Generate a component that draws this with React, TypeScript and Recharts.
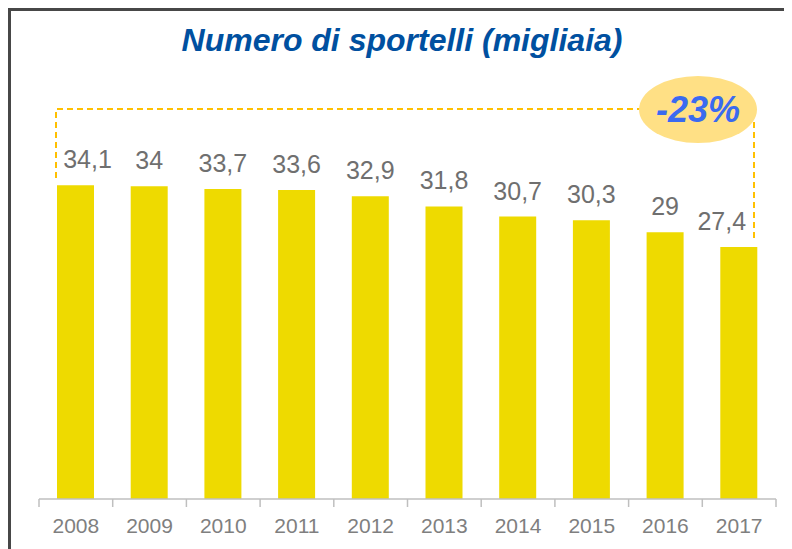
import React from "react";
import { BarChart, Bar, XAxis, YAxis, LabelList } from "recharts";

const years = ["2008", "2009", "2010", "2011", "2012", "2013", "2014", "2015", "2016", "2017"];
const sportelli = [34.1, 34, 33.7, 33.6, 32.9, 31.8, 30.7, 30.3, 29, 27.4];
const variazione = "-23%";

const data = years.map((anno, i) => ({ anno, valore: sportelli[i] }));

const W = 784;
const H = 541;
const AXIS_H = 30;
const M = { top: 77, right: 16, bottom: 50 - AXIS_H, left: 31 };
const band = (W - M.left - M.right) / years.length;
const font = "'Liberation Sans', Arial, sans-serif";

// tick marks sit on the band edges, labels in the middle
const YearTick = (props: any) => {
  const { x, y, payload, index } = props;
  const axisY = y - 8;
  const left = x - band / 2;
  return (
    <g>
      <line x1={left} y1={axisY} x2={left} y2={axisY + 8} stroke="#bfbfbf" strokeWidth={1.5} />
      {index === years.length - 1 && (
        <line x1={x + band / 2} y1={axisY} x2={x + band / 2} y2={axisY + 8} stroke="#bfbfbf" strokeWidth={1.5} />
      )}
      <text x={x} y={axisY + 34} textAnchor="middle" fill="#7f7f7f" fontSize={21} fontFamily={font}>
        {payload.value}
      </text>
    </g>
  );
};

// first and last labels are nudged away from the dashed bracket
const ValueLabel = (props: any) => {
  const { x, y, width, value, index } = props;
  const nudge = index === 0 ? 12 : index === years.length - 1 ? -17 : 0;
  return (
    <text
      x={x + width / 2 + nudge}
      y={y - 17}
      textAnchor="middle"
      fill="#6f6f6f"
      fontSize={25}
      fontFamily={font}
    >
      {String(value).replace(".", ",")}
    </text>
  );
};

export default function App() {
  return (
    <div style={{ position: "relative", width: W, height: H }}>
      <div
        style={{
          position: "absolute",
          left: 0,
          top: 0,
          width: W + 10,
          height: H + 10,
          borderLeft: "3px solid #474747",
          borderTop: "3px solid #474747",
          boxSizing: "border-box",
        }}
      />
      <BarChart width={W} height={H} data={data} margin={M} barSize={37}>
        <XAxis
          dataKey="anno"
          height={AXIS_H}
          axisLine={{ stroke: "#bfbfbf", strokeWidth: 1.5 }}
          tickLine={false}
          tick={<YearTick />}
          interval={0}
        />
        <YAxis hide domain={[0, 45]} />
        <Bar dataKey="valore" fill="#eeda00" isAnimationActive={false}>
          <LabelList dataKey="valore" content={<ValueLabel />} />
        </Bar>
      </BarChart>
      <svg width={W} height={H} style={{ position: "absolute", left: 0, top: 0, pointerEvents: "none" }}>
        <text
          x={394}
          y={43}
          textAnchor="middle"
          fill="#0050a0"
          fontSize={32}
          fontWeight="bold"
          fontStyle="italic"
          fontFamily={font}
        >
          Numero di sportelli (migliaia)
        </text>
        <polyline
          points="48,170 48,101 690,101 746,101 746,230"
          fill="none"
          stroke="#ffc000"
          strokeWidth={2}
          strokeDasharray="6 4"
        />
        <ellipse cx={690} cy={101.5} rx={59} ry={33.5} fill="#ffe085" />
        <text
          x={690}
          y={114}
          textAnchor="middle"
          fill="#3a6af0"
          fontSize={36}
          fontWeight="bold"
          fontStyle="italic"
          fontFamily={font}
        >
          {variazione}
        </text>
      </svg>
    </div>
  );
}
